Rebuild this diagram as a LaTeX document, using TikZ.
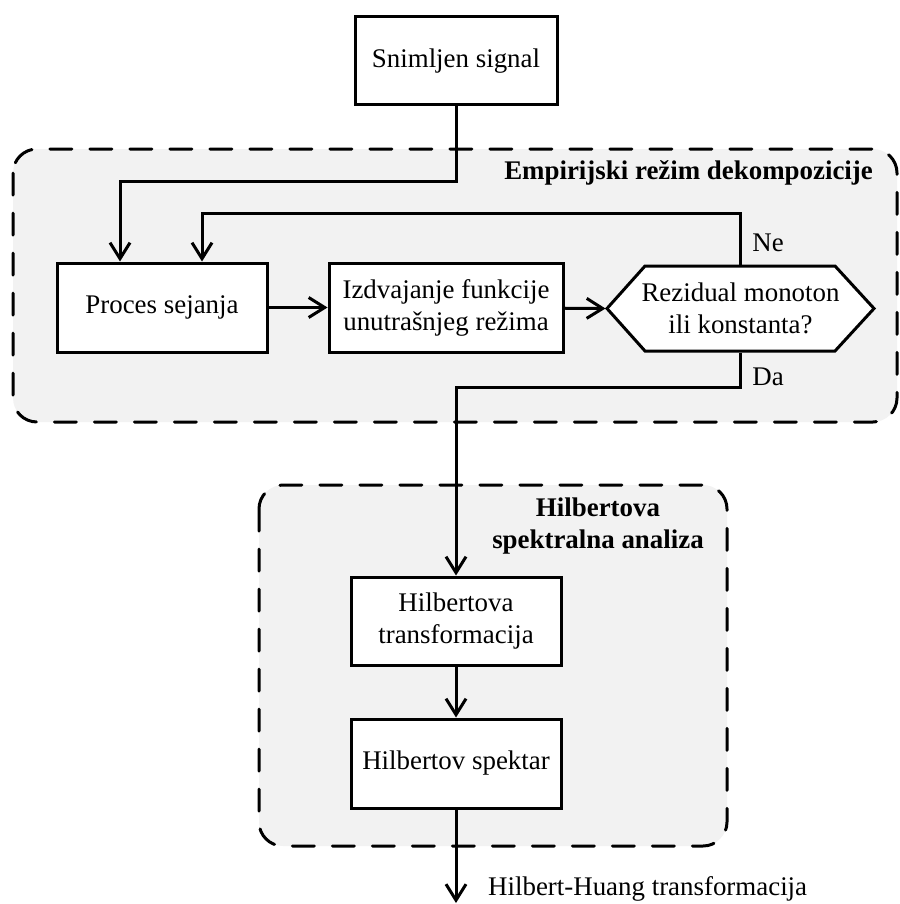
\documentclass[tikz,border=0pt]{standalone}
\usepackage{fontspec}
\setmainfont{Liberation Serif}
\usetikzlibrary{arrows.meta}

\begin{document}
\begin{tikzpicture}[x=0.5pt,y=-0.5pt,line width=1.5pt,
  every node/.style={font=\fontsize{13.45}{16}\selectfont},
  box/.style={rectangle,draw=black,fill=white,align=center,inner sep=0pt},
  grp/.style={draw=black,fill=black!5,line cap=round,dash pattern=on 11pt off 9pt,rounded corners=12pt},
  arr/.style={-{Straight Barb[length=8pt,width=10pt]}},
  ttl/.style={font=\fontsize{13.45}{16}\selectfont\bfseries,align=center}]
\useasboundingbox (0,0) rectangle (899,904);

% groups
\draw[grp] (13,149) rectangle (897,422);
\draw[grp] (259,485) rectangle (727,846);
\node[ttl,anchor=east] (emd) at (881,173) {Empirijski režim dekompozicije};
\node[ttl] (hsa) at (598,526) {Hilbertova\\spektralna analiza};

\node[box,minimum width=101pt,minimum height=44pt] (sig) at (456,61) {Snimljen signal};
\node[box,minimum width=105pt,minimum height=44.5pt] (sej) at (162,307.5) {Proces sejanja};
\node[box,minimum width=117pt,minimum height=44.5pt] (imf) at (446,307.5) {Izdvajanje funkcije\\unutrašnjeg režima};
% hexagon
\draw[fill=white] (607,308.5) -- (645,266) -- (835,266) -- (874,308.5) -- (835,351) -- (645,351) -- cycle;
\node[align=center,minimum width=133.5pt,minimum height=42.5pt,inner sep=0pt] (res) at (740.5,308.5) {Rezidual monoton\\ili konstanta?};
\node[box,minimum width=105pt,minimum height=44pt] (ht) at (456,621) {Hilbertova\\transformacija};
\node[box,minimum width=105pt,minimum height=44.5pt] (hs) at (456,763.5) {Hilbertov spektar};

\coordinate (j1) at (120,181);
\coordinate (j2) at (202,213);
\coordinate (j3) at (456,387);
\coordinate (out) at (456,903);

\draw[arr] (sig.south) |- (j1) -- (j1 |- sej.north);
\path [arr] (sej) edge (imf);
\path [arr] (imf) edge (res.west);
\draw[arr] (res.north) |- (j2) -- (j2 |- sej.north);
\draw[arr] (res.south) |- (j3) -- (ht.north);
\path [arr] (ht) edge (hs);
\draw[arr] (hs.south) -- (out);

\node (ne) at (768,243) {Ne};
\node (da) at (768,377) {Da};
\node[anchor=west] (hht) at (480,889) {Hilbert-Huang transformacija};

\end{tikzpicture}
\end{document}
